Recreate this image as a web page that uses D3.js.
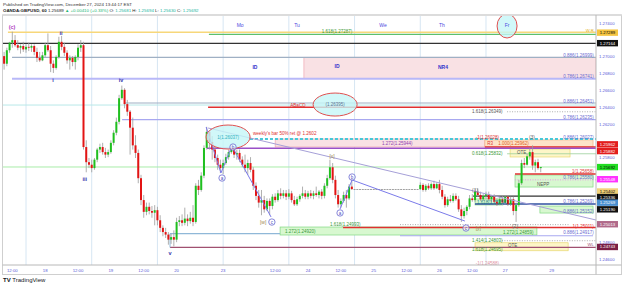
<!DOCTYPE html>
<html>
<head>
<meta charset="utf-8">
<script src="https://cdn.jsdelivr.net/npm/d3@7"></script>
<style>
  body { margin: 0; background: #fff; }
  svg { display: block; font-family: "Liberation Sans", Arial, sans-serif; }
</style>
</head>
<body>
<div id="chart"></div>
<script>
// GBPUSD 1h candles, Dec 17 09:00 -> Dec 27 13:00 (EST), open = previous close
var firstOpen = 1.2701;
var closes = [
  1.2692,1.2708,1.2717,1.2720,1.2714,1.2711,1.2713,1.2709,1.2712,1.2711,1.2713,1.2706,1.2699,1.2696,1.2702,1.2714,1.2708,1.2692,1.2687,1.2700,1.2718,1.2712,1.2705,1.2696,1.2699,1.2694,1.2700,1.2711,1.2714,1.2593,
  1.2575,1.2572,1.2568,1.2578,1.2590,1.2593,1.2587,1.2584,1.2587,1.2598,1.2610,1.2623,1.2651,1.2661,1.2644,1.2635,1.2616,1.2595,1.2586,1.2556,1.2530,1.2516,1.2522,1.2517,1.2515,1.2518,1.2506,1.2497,1.2492,1.2489,1.2483,1.2486,1.2483,1.2504,1.2506,1.2503,1.2508,1.2505,1.2509,1.2504,1.2547,1.2542,1.2559,1.2592,1.2611,1.2599,1.2590,1.2580,1.2572,1.2568,
  1.2574,1.2581,1.2587,1.2592,1.2584,1.2586,1.2578,1.2572,1.2568,1.2574,1.2566,1.2547,1.2535,1.2527,1.2530,1.2519,1.2529,1.2523,1.2534,1.2530,1.2538,1.2535,1.2538,1.2534,
  1.2538,1.2530,1.2525,1.2531,1.2535,1.2538,1.2534,1.2538,1.2535,1.2538,1.2536,1.2540,1.2535,1.2547,1.2556,1.2569,1.2554,1.2536,1.2525,1.2529,1.2536,1.2532,1.2546,1.2543,
  1.2543,1.2543,1.2543,1.2543,1.2543,1.2543,1.2543,1.2543,1.2543,1.2543,1.2543,1.2543,1.2543,1.2543,1.2543,1.2543,1.2543,1.2543,1.2543,1.2543,1.2543,1.2543,1.2543,1.2543,
  1.2548,1.2542,1.2547,1.2544,1.2549,1.2544,1.2549,1.2542,1.2534,1.2524,1.2531,1.2529,1.2535,1.2531,1.2519,1.2511,1.2517,1.2522,1.2532,1.2530,1.2540,1.2536,1.2531,1.2535,
  1.2537,1.2531,1.2534,1.2528,1.2525,1.2531,1.2527,1.2534,1.2525,1.2531,1.2517,1.2524,1.2550,1.2574,1.2572,1.2582,1.2587,1.2571,1.2575,1.2568,1.25692
];
var highs = [
  1.2706,1.2711,1.2718,1.2730,1.2726,1.2720,1.2715,1.2718,1.2715,1.2717,1.2715,1.2715,1.2711,1.2706,1.2706,1.2717,1.2728,1.2713,1.2696,1.2702,1.2724,1.2725,1.2717,1.2708,1.2702,1.2701,1.2702,1.2715,1.2720,1.2718,
  1.2601,1.2580,1.2578,1.2580,1.2592,1.2597,1.2598,1.2592,1.2590,1.2601,1.2613,1.2628,1.2655,1.2666,1.2663,1.2649,1.2637,1.2628,1.2607,1.2590,1.2560,1.2536,1.2527,1.2527,1.2523,1.2524,1.2522,1.2512,1.2500,1.2497,1.2492,1.2490,1.2494,1.2509,1.2511,1.2513,1.2521,1.2513,1.2516,1.2524,1.2550,1.2554,1.2563,1.2595,1.2617,1.2613,1.2606,1.2595,1.2584,1.2578,
  1.2578,1.2585,1.2590,1.2594,1.2594,1.2590,1.2590,1.2582,1.2584,1.2578,1.2581,1.2569,1.2551,1.2542,1.2542,1.2535,1.2532,1.2532,1.2537,1.2538,1.2542,1.2544,1.2542,1.2542,
  1.2543,1.2541,1.2535,1.2534,1.2537,1.2546,1.2542,1.2541,1.2542,1.2541,1.2546,1.2542,1.2543,1.2550,1.2560,1.2578,1.2574,1.2559,1.2542,1.2532,1.2540,1.2542,1.2549,1.2556,
  1.2543,1.2543,1.2543,1.2543,1.2543,1.2543,1.2543,1.2543,1.2543,1.2543,1.2543,1.2543,1.2543,1.2543,1.2543,1.2543,1.2543,1.2543,1.2543,1.2543,1.2543,1.2543,1.2543,1.2543,
  1.2551,1.2550,1.2549,1.2550,1.2551,1.2553,1.2551,1.2554,1.2547,1.2537,1.2534,1.2536,1.2538,1.2538,1.2535,1.2524,1.2521,1.2524,1.2536,1.2537,1.2543,1.2544,1.2540,1.2537,
  1.2540,1.2540,1.2536,1.2537,1.2532,1.2534,1.2535,1.2536,1.2536,1.2534,1.2534,1.2527,1.2554,1.2578,1.2580,1.2585,1.2592,1.2595,1.2578,1.2579,1.25694
];
var lows = [
  1.2685,1.2689,1.2705,1.2711,1.2712,1.2708,1.2704,1.2706,1.2705,1.2707,1.2706,1.2702,1.2694,1.2694,1.2695,1.2700,1.2706,1.2682,1.2681,1.2685,1.2698,1.2708,1.2701,1.2692,1.2685,1.2689,1.2685,1.2696,1.2706,1.2590,
  1.2563,1.2568,1.2563,1.2566,1.2575,1.2586,1.2584,1.2580,1.2581,1.2585,1.2595,1.2607,1.2620,1.2649,1.2639,1.2630,1.2584,1.2590,1.2580,1.2550,1.2524,1.2509,1.2512,1.2513,1.2509,1.2500,1.2500,1.2492,1.2487,1.2485,1.2477,1.2478,1.2475,1.2480,1.2499,1.2499,1.2500,1.2499,1.2502,1.2499,1.2502,1.2536,1.2540,1.2556,1.2590,1.2590,1.2578,1.2575,1.2566,1.2562,
  1.2561,1.2572,1.2578,1.2585,1.2580,1.2578,1.2575,1.2569,1.2563,1.2560,1.2563,1.2542,1.2530,1.2521,1.2512,1.2515,1.2517,1.2512,1.2519,1.2527,1.2528,1.2531,1.2532,1.2530,
  1.2531,1.2527,1.2523,1.2523,1.2528,1.2532,1.2531,1.2531,1.2532,1.2531,1.2534,1.2532,1.2531,1.2532,1.2544,1.2554,1.2550,1.2532,1.2521,1.2521,1.2527,1.2521,1.2530,1.2542,
  1.2543,1.2543,1.2543,1.2543,1.2543,1.2543,1.2543,1.2543,1.2543,1.2543,1.2543,1.2543,1.2543,1.2543,1.2543,1.2543,1.2543,1.2543,1.2543,1.2543,1.2543,1.2543,1.2543,1.2543,
  1.2542,1.2540,1.2540,1.2542,1.2542,1.2542,1.2543,1.2538,1.2531,1.2521,1.2522,1.2527,1.2527,1.2529,1.2516,1.2504,1.2508,1.2512,1.2519,1.2528,1.2528,1.2534,1.2529,1.2529,
  1.2531,1.2529,1.2527,1.2525,1.2523,1.2524,1.2524,1.2525,1.2523,1.2523,1.2512,1.2504,1.2522,1.2548,1.2568,1.2571,1.2578,1.2566,1.2563,1.2566,1.2563
];

// axis ticks (bar index for time)
var priceTicks = [1.274, 1.270, 1.268, 1.266, 1.264, 1.262, 1.258, 1.248, 1.246];
var timeTicks = [[3,"12:00"],[15,"18"],[27,"12:00"],[39,"19"],[51,"12:00"],[63,"20"],[80,"23"],[99,"12:00"],
  [111,"24"],[123,"12:00"],[135,"25"],[147,"12:00"],[159,"26"],[171,"12:00"],[183,"27"],[200,"29"]];
var sessionStarts = [8, 32, 56, 80, 104, 128, 152, 176];
var dayNames = [["Mo",86.2],["Tu",107],["We",138.4],["Th",159.9],["Fr",183.7]];

// price tags on the axis
var axisTags = [
  [1.27289,"#f5c542","#000"],[1.27164,"#111","#fff"],[1.25962,"#e21d1d","#fff"],[1.25882,"#e21d1d","#fff"],
  [1.25692,"#22dd22","#000"],[1.25548,"#ff33ff","#fff"],[1.25402,"#f3d27a","#000"],[1.25336,"#111","#fff"],
  [1.25269,"#4a8fd0","#fff"],[1.25190,"#111","#fff"],[1.25013,"#b06a8a","#fff"],[1.24743,"#7a1f45","#fff"]
];

// drawings: horizontal levels [price, from bar, to bar, style]
var levels = [
  [1.27293,1.4,217,"yellow"],[1.27269,74.8,217,"green"],[1.27162,-2,217,"black"],[1.26996,2.9,217,"slate"],
  [1.26742,2.9,217,"lavender2"],[1.26453,44.2,217,"slate"],[1.26429,-2,217,"paleCyan"],[1.26402,74.5,217,"red"],
  [1.26349,183.7,217,"dotGray"],[1.26255,43.1,217,"lavender"],[1.26026,89.8,217,"cyanDash"],[1.25931,175.6,217,"red"],
  [1.25915,74.1,217,"purple"],[1.25850,183.7,217,"greenThin"],[1.25693,-2,217,"paleGreen"],[1.25610,186.6,217,"red"],
  [1.25540,186.6,217,"magentaDot"],[1.25348,171.3,217,"black"],[1.25253,172,217,"blue"],[1.25008,144.6,206.7,"dotGray"],
  [1.24975,123.8,217,"red"],[1.24901,60.6,100.8,"steel"],[1.24876,144.6,215.1,"lavender"],[1.24817,181.8,217,"dotGray"],
  [1.24737,60.6,217,"maroon"]
];
// zones [from bar, to bar, top price, bottom price, style]
var zones = [
  [109.5,216.2,1.26996,1.26742,"pink"],[99,175.6,1.26026,1.25931,"pink"],[175.6,215.1,1.26015,1.25931,"orange"],
  [184.8,206.7,1.25907,1.25812,"ote"],[186.6,215.1,1.25598,1.25455,"greenZ"],[172,182.2,1.25313,1.25242,"greenZ"],
  [195.7,215.1,1.25229,1.25146,"greenZ"],[100.8,194.6,1.24980,1.24885,"greenZ"],[172,206,1.24793,1.24698,"ote"]
];
var trendLine = [[74.5,1.26156],[216.2,1.25063]];
var waveLegs = [
  [[73.8,1.26168],[79.2,1.25622],[83.2,1.25942],[97.5,1.25099]],
  [[122.7,1.25194],[127.1,1.25539],[168.3,1.25051]]
];
var ellipses = [[81.8,1.26049,22,12,"1(1.26037)"],[120.9,1.26435,22,11.5,"(1.26395)"],[183.7,1.27368,10,12,""]];
var circled = [[79.6,1.25562,"a"],[83.6,1.25930,"b"],[97.8,1.25039,"c"],[122.7,1.25147,"a"],[127.1,1.25574,"b"],[168.7,1.24968,"c"]];
var notes = [
  ["(c)",2.9,1.27356,"waveC"],["ii",20.8,1.27285,"wave"],["i",17.9,1.26726,"wave"],["iv",42.7,1.26726,"wave"],
  ["iii",29.5,1.25550,"wave"],["v",60.6,1.24671,"wave"],["[w]",94.6,1.25039,"waveBrown"],["[x]",119.8,1.25824,"waveBrown"],
  ["[y]",173.2,1.24968,"waveBrown"],["(1)",172,1.25420,"waveGray"],["(2)",186.6,1.24992,"waveGray"],["(3)",192.8,1.26045,"waveGray"],
  ["ID",91.6,1.26881,"id"],["ID",121.6,1.26893,"id"],["NR4",160.3,1.26881,"id"],["ABaCD",107.3,1.26429,"noteRed"],
  ["weekly's bar 50% ret @ 1.2602",90.9,1.26097,"noteRed","start"],
  ["1.618(1.27287)",121.6,1.27309,"fibGreen"],["0.886(1.26999)",215.4,1.27023,"fibBlue","end"],
  ["0.786(1.26741)",215.4,1.26774,"fibBlue","end"],["0.886(1.26451)",215.4,1.26477,"fibBlue","end"],
  ["1.618(1.26349)",170.9,1.26358,"fibGray","start"],["0.786(1.26235)",215.4,1.26286,"fibBlue","end"],
  ["-1(1.26028)",172.3,1.26049,"fibRed","start"],["0.886(1.26027)",215.4,1.26049,"fibBlue","end"],
  ["1.272(1.25944)",138,1.25978,"fibPurple","start"],["R3",176.5,1.25978,"fibRed","start"],
  ["1.000(1.25962)",180.5,1.25978,"fibOrange","start"],["0.618(1.25832)",170.9,1.25859,"fibGreen","start"],
  ["OTE",187.3,1.25871,"fibGray","start"],["1(1.25658)",215.4,1.25646,"fibRed","end"],
  ["0.786(1.25580)",215.4,1.25575,"fibBlue","end"],["NEPP",194.6,1.25491,"fibGray","start"],
  ["1.618(1.25254)",172.7,1.25277,"fibTeal","start"],["0.786(1.25269)",215.4,1.25289,"fibBlue","end"],
  ["0.886(1.25152)",215.4,1.25170,"fibBlue","end"],["1.618(1.24993)",119,1.25008,"fibGreen","start"],
  ["1(1.25011)",215.4,1.24992,"fibRed","end"],["1.272(1.24920)",102.6,1.24925,"fibGreen","start"],
  ["1.272(1.24859)",182.2,1.24913,"fibGreen","start"],["0.886(1.24917)",215.4,1.24913,"fibBlue","end"],
  ["1.414(1.24803)",170.9,1.24817,"fibGreen","start"],["OTE",184,1.24760,"fibGray","start"],
  ["1.618(1.24695)",170.9,1.24710,"fibGreen","start"],["WL",215.4,1.24770,"tagMaroon","end"],
  ["W R",215.4,1.27320,"tagYellow","end"],["-1(1.24588)",172.3,1.24549,"fibPink","start"]
];

// styles
var lineStyles = {
  yellow:{c:"#f7d77a",w:1.5}, green:{c:"#5cbf6c",w:1.2}, black:{c:"#333",w:1.2}, slate:{c:"#9fb0c4",w:1.2},
  lavender2:{c:"#b8b8f8",w:2}, paleCyan:{c:"#b8e8e8",w:1}, red:{c:"#e03030",w:1.5}, dotGray:{c:"#999",w:0.8,d:"1,1.5"},
  lavender:{c:"#a8a8f0",w:1.2}, cyanDash:{c:"#48c8d8",w:2,d:"3,2"}, purple:{c:"#9a50c8",w:1.5},
  greenThin:{c:"#9ad09a",w:0.8}, paleGreen:{c:"#a8eca8",w:1}, magentaDot:{c:"#f080f0",w:0.8,d:"1,1.5"},
  blue:{c:"#3050a0",w:1.5}, steel:{c:"#90b8d8",w:1.2}, maroon:{c:"#a05070",w:1.2}
};
var zoneStyles = {
  pink:{f:"#f9e1e4",s:"#f0a8b0"}, orange:{f:"#fde3c8",s:"#f0b080"},
  ote:{f:"#fdf6c8",s:"#e8d870"}, greenZ:{f:"#d8f8d0",s:"#80d880"}
};
var textStyles = {
  fibBlue:{c:"#6a6ad0",s:4.5}, fibGreen:{c:"#3a9a3a",s:4.5}, fibRed:{c:"#e03030",s:4.5}, fibGray:{c:"#555",s:4.5},
  fibPurple:{c:"#9040b0",s:4.5}, fibTeal:{c:"#208080",s:4.5}, fibPink:{c:"#e090a0",s:4.5}, fibOrange:{c:"#e06020",s:4.5},
  wave:{c:"#3333aa",s:5.5,b:true}, waveC:{c:"#b040c0",s:5.5,b:true}, waveBrown:{c:"#a08850",s:5},
  waveGray:{c:"#666",s:5}, id:{c:"#3333cc",s:5,b:true}, noteRed:{c:"#e03030",s:4.6},
  tagYellow:{c:"#e0b020",s:4.2}, tagMaroon:{c:"#a05070",s:4.2}
};

var W = 625, H = 287;
var paneR = 596, paneT = 16, paneB = 265;

var x = d3.scaleLinear().domain([0, 200]).range([4.1, 551.7]);
var y = d3.scaleLinear().domain([1.246, 1.274]).range([259, 23.3]);

var svg = d3.select("#chart").append("svg").attr("width", W).attr("height", H);
svg.append("rect").attr("width", W).attr("height", H).attr("fill", "#fff");

// header
svg.append("text").attr("x", 3).attr("y", 6).attr("font-size", 4.4).attr("fill", "#333")
  .text("Published on TradingView.com, December 27, 2024 13:44:17 EST");
var hdr = svg.append("text").attr("x", 3).attr("y", 12).attr("font-size", 4.4).attr("fill", "#222");
hdr.append("tspan").attr("font-weight", "bold").text("OANDA:GBPUSD, 60 ");
hdr.append("tspan").text("1.25689 ");
hdr.append("tspan").attr("fill", "#22b573").text("\u25B2 +0.00410 (+0.33%) ");
[["O:", "1.25681"], ["H:", "1.25694"], ["L:", "1.25630"], ["C:", "1.25692"]].forEach(function(p) {
  hdr.append("tspan").text(" " + p[0] + " ");
  hdr.append("tspan").attr("fill", "#22b5a0").text(p[1]);
});

// frame
svg.append("rect").attr("x", 2.5).attr("y", 15).attr("width", 619).attr("height", 259.5)
  .attr("fill", "none").attr("stroke", "#cfcfcf");
svg.append("line").attr("x1", 2.5).attr("x2", 621.5).attr("y1", 15).attr("y2", 15)
  .attr("stroke", "#dcdcdc").attr("stroke-width", 2);

svg.append("clipPath").attr("id", "pane").append("rect")
  .attr("x", 3).attr("y", paneT).attr("width", paneR - 3).attr("height", paneB - paneT);
var plot = svg.append("g").attr("clip-path", "url(#pane)");

// session breaks
plot.selectAll(".sep").data(sessionStarts).join("line")
  .attr("x1", d => x(d)).attr("x2", d => x(d)).attr("y1", paneT).attr("y2", paneB)
  .attr("stroke", "#d6e6f3").attr("stroke-width", 1);

// zones
plot.selectAll(".zone").data(zones).join("rect")
  .attr("x", d => x(d[0])).attr("width", d => x(d[1]) - x(d[0]))
  .attr("y", d => y(d[2])).attr("height", d => y(d[3]) - y(d[2]))
  .attr("fill", d => zoneStyles[d[4]].f).attr("stroke", d => zoneStyles[d[4]].s).attr("stroke-width", 0.7);

// levels
plot.selectAll(".lvl").data(levels).join("line")
  .attr("x1", d => x(d[1])).attr("x2", d => x(d[2]))
  .attr("y1", d => y(d[0])).attr("y2", d => y(d[0]))
  .attr("stroke", d => lineStyles[d[3]].c).attr("stroke-width", d => lineStyles[d[3]].w)
  .attr("stroke-dasharray", d => lineStyles[d[3]].d || null);
plot.append("line").attr("x1", x(60.6)).attr("x2", x(60.6)).attr("y1", y(1.24901)).attr("y2", y(1.24737))
  .attr("stroke", "#90b8d8").attr("stroke-width", 1);

// candles
var candles = closes.map(function(c, i) {
  return {i: i, o: i ? closes[i - 1] : firstOpen, h: highs[i], l: lows[i], c: c};
});
var gc = plot.append("g");
gc.selectAll("line").data(candles).join("line")
  .attr("x1", d => x(d.i)).attr("x2", d => x(d.i))
  .attr("y1", d => y(d.h)).attr("y2", d => y(d.l))
  .attr("stroke", "#9a9a9a").attr("stroke-width", 0.8);
gc.selectAll("rect").data(candles).join("rect")
  .attr("x", d => x(d.i) - 1).attr("width", 2)
  .attr("y", d => y(Math.max(d.o, d.c)))
  .attr("height", d => Math.max(0.8, Math.abs(y(d.o) - y(d.c))))
  .attr("fill", d => d.c > d.o ? "#1fc01f" : d.c < d.o ? "#e31414" : "#8a8a8a");

// trend line + wave legs
var line = d3.line().x(d => x(d[0])).y(d => y(d[1]));
plot.append("path").attr("d", line(trendLine)).attr("fill", "none")
  .attr("stroke", "#a6a0d8").attr("stroke-width", 1);
plot.selectAll(".leg").data(waveLegs).join("path").attr("d", line).attr("fill", "none")
  .attr("stroke", "#7b7bea").attr("stroke-width", 1);

// ellipses
ellipses.forEach(function(e) {
  plot.append("ellipse").attr("cx", x(e[0])).attr("cy", y(e[1])).attr("rx", e[2]).attr("ry", e[3])
    .attr("fill", "#c6f6f8").attr("fill-opacity", 0.8).attr("stroke", "#e05050").attr("stroke-width", 1);
  if (e[4]) plot.append("text").attr("x", x(e[0])).attr("y", y(e[1]) + 1.5).attr("text-anchor", "middle")
    .attr("font-size", 4.5).attr("fill", e[0] < 100 ? "#30b0c0" : "#607090").text(e[4]);
});

// circled wave letters
circled.forEach(function(c) {
  plot.append("circle").attr("cx", x(c[0])).attr("cy", y(c[1])).attr("r", 3.2)
    .attr("fill", "#fff").attr("fill-opacity", 0.6).attr("stroke", "#6a6ad0").attr("stroke-width", 0.8);
  plot.append("text").attr("x", x(c[0])).attr("y", y(c[1]) + 1.6).attr("text-anchor", "middle")
    .attr("font-size", 4.6).attr("fill", "#5050c0").text(c[2]);
});

// notes
notes.forEach(function(n) {
  var st = textStyles[n[3]];
  plot.append("text").attr("x", x(n[1])).attr("y", y(n[2])).attr("dy", "0.35em")
    .attr("text-anchor", n[4] || "middle").attr("font-size", st.s).attr("fill", st.c)
    .attr("font-weight", st.b ? "bold" : null).text(n[0]);
});

// day names
plot.selectAll(".day").data(dayNames).join("text")
  .attr("x", d => x(d[1])).attr("y", y(1.27380)).attr("dy", "0.35em").attr("text-anchor", "middle")
  .attr("font-size", 5).attr("fill", "#4a4ae0").text(d => d[0]);

// axes
svg.append("line").attr("x1", paneR).attr("x2", paneR).attr("y1", 15).attr("y2", 274.5).attr("stroke", "#b8b8b8");
svg.append("line").attr("x1", 2.5).attr("x2", 621.5).attr("y1", paneB).attr("y2", paneB).attr("stroke", "#b8b8b8");

svg.selectAll(".ptick").data(priceTicks).join("text")
  .attr("x", 599).attr("y", d => y(d)).attr("dy", "0.35em")
  .attr("font-size", 4.3).attr("fill", "#5a5ad8").text(d => d.toFixed(5));

var tags = svg.selectAll(".tag").data(axisTags).join("g")
  .attr("transform", d => "translate(597," + y(d[0]) + ")");
tags.append("rect").attr("x", 0).attr("y", -3.2).attr("width", 21).attr("height", 6.4).attr("fill", d => d[1]);
tags.append("text").attr("x", 10.5).attr("dy", "0.35em").attr("text-anchor", "middle")
  .attr("font-size", 4.3).attr("fill", d => d[2]).text(d => d[0].toFixed(5));

svg.selectAll(".ttick").data(timeTicks).join("text")
  .attr("x", d => x(d[0])).attr("y", 271.5).attr("text-anchor", "middle")
  .attr("font-size", 4.3).attr("fill", "#5a5ad8").text(d => d[1]);

// logo
var logo = svg.append("text").attr("x", 3).attr("y", 282).attr("font-size", 6).attr("fill", "#131722");
logo.append("tspan").attr("font-weight", "bold").text("TV ");
logo.append("tspan").text("TradingView");
</script>
</body>
</html>
